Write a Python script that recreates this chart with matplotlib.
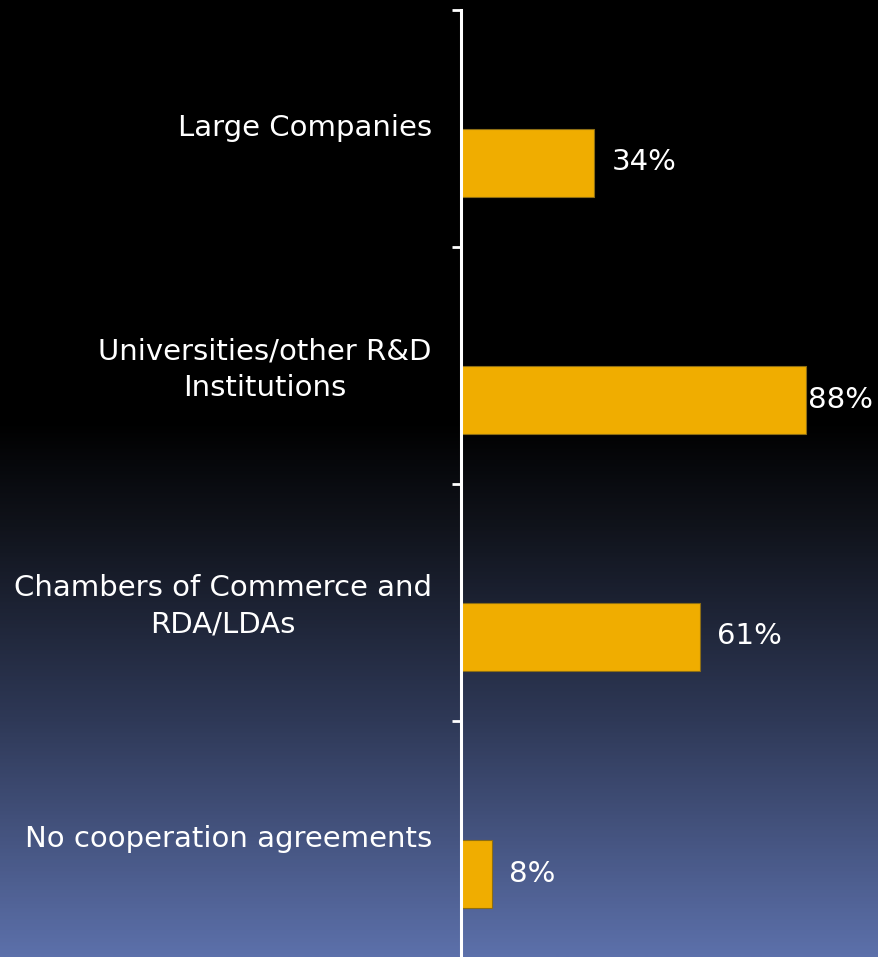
import numpy as np
import matplotlib
matplotlib.use('Agg')
import matplotlib.pyplot as plt
from matplotlib.colors import LinearSegmentedColormap

# data
categories = ['Large Companies', 'Universities/other R&D\nInstitutions',
              'Chambers of Commerce and\nRDA/LDAs', 'No cooperation agreements']
values = [34, 88, 61, 8]
value_labels = ['34%', '88%', '61%', '8%']

W, H = 879, 957
fig = plt.figure(figsize=(W / 100, H / 100), dpi=100)

# gradient background (black at top, slate blue at bottom)
bg = fig.add_axes([0, 0, 1, 1], zorder=0)
grad_cmap = LinearSegmentedColormap.from_list(
    'bg', [(0.0, '#000000'), (0.44, '#000000'), (0.55, '#10131b'),
           (0.75, '#2e3856'), (1.0, '#5c70aa')])
bg.imshow(np.linspace(0, 1, 512).reshape(-1, 1), aspect='auto', cmap=grad_cmap,
          extent=[0, 1, 1, 0])
bg.set_axis_off()

ax_left = 461 / W
ax_top = 1 - 10 / H
ax_bot = 1 - 958 / H
ax = fig.add_axes([ax_left, ax_bot, 1 - ax_left, ax_top - ax_bot], zorder=1)
ax.patch.set_alpha(0)

px_per_pct = 3.92
ax.set_xlim(0, (W - 461) / px_per_pct)
ax.set_ylim(len(categories) - 0.5, -0.5)

bar_h = 68 / 237
ypos = np.arange(len(categories)) + bar_h / 2
ax.barh(ypos, values, height=bar_h, color='#f0ad00', edgecolor='#8c6d14',
        linewidth=0.8)

fs = 21
for v, lab, y in zip(values, value_labels, ypos):
    off = 2 if v > 80 else 17
    ax.annotate(lab, (v, y), xytext=(off * 0.72, 0), textcoords='offset points',
                ha='left', va='center', color='white', fontsize=fs)

# band boundaries as major ticks, category names as minor tick labels
ax.set_yticks(np.arange(-0.5, len(categories) + 0.5, 1))
ax.set_yticklabels([])
ax.set_yticks(np.arange(len(categories)) - 0.013, minor=True)
ax.set_yticklabels(categories, minor=True, fontsize=fs, color='white',
                   multialignment='center', linespacing=1.38)
ax.tick_params(axis='y', which='major', length=6.5, width=2, color='white',
               direction='out')
ax.tick_params(axis='y', which='minor', length=0, pad=21)
ax.set_xticks([])

for s in ['top', 'right', 'bottom']:
    ax.spines[s].set_visible(False)
ax.spines['left'].set_color('white')
ax.spines['left'].set_linewidth(2.2)

fig.savefig('out.png', dpi=100)
